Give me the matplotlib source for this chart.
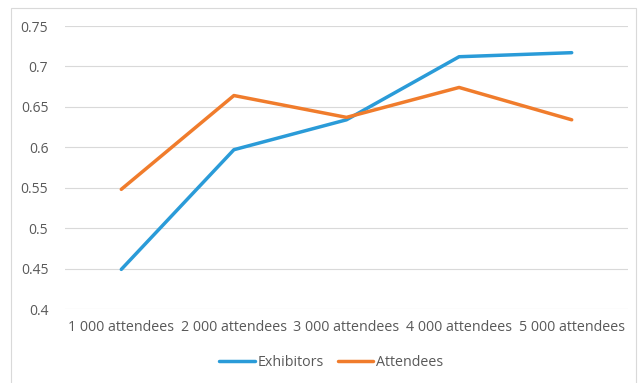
import matplotlib
matplotlib.use("Agg")
import matplotlib.pyplot as plt
from matplotlib.patches import Rectangle

categories = ["1 000 attendees", "2 000 attendees", "3 000 attendees",
              "4 000 attendees", "5 000 attendees"]
exhibitors = [0.449, 0.597, 0.634, 0.712, 0.717]
attendees = [0.548, 0.664, 0.637, 0.674, 0.634]
yticks = [0.4, 0.45, 0.5, 0.55, 0.6, 0.65, 0.7, 0.75]
ytick_labels = ["0.4", "0.45", "0.5", "0.55", "0.6", "0.65", "0.7", "0.75"]

plt.rcParams["font.family"] = ["Open Sans", "DejaVu Sans"]

W, H = 640, 383
fig = plt.figure(figsize=(W / 100, H / 100), dpi=100)
fig.patch.set_facecolor("white")

# chart border
fig.add_artist(Rectangle((10.5 / W, -0.05), (636 - 10.5) / W, (H - 7.5) / H + 0.05,
                         transform=fig.transFigure, fill=False,
                         edgecolor="#D9D9D9", linewidth=0.8))

ax = fig.add_axes([65 / W, 1 - 309 / H, (628 - 65) / W, (309 - 26) / H])
x = range(len(categories))
ax.plot(x, exhibitors, color="#2A9BD8", linewidth=2.5, label="Exhibitors",
        solid_capstyle="round", solid_joinstyle="round")
ax.plot(x, attendees, color="#F07C2C", linewidth=2.5, label="Attendees",
        solid_capstyle="round", solid_joinstyle="round")

ax.set_xlim(-0.5, len(categories) - 0.5)
ax.set_ylim(0.4, 0.75)
ax.set_yticks(yticks)
ax.set_yticklabels(ytick_labels)
ax.set_xticks(list(x))
ax.set_xticklabels(categories)
ax.grid(axis="y", color="#D9D9D9", linewidth=0.8)
ax.set_axisbelow(True)
for s in ax.spines.values():
    s.set_visible(False)
ax.tick_params(axis="both", length=0, colors="#595959")
ax.tick_params(axis="y", pad=12, labelsize=10)
ax.tick_params(axis="x", pad=8, labelsize=10.3)

leg = fig.legend(loc="center", bbox_to_anchor=(331 / W, 1 - 363 / H), ncol=2,
                 frameon=False, fontsize=10.3, handlelength=2.5,
                 handletextpad=0.15, columnspacing=1.0)
for t in leg.get_texts():
    t.set_color("#595959")

fig.savefig("out.png", dpi=100)
